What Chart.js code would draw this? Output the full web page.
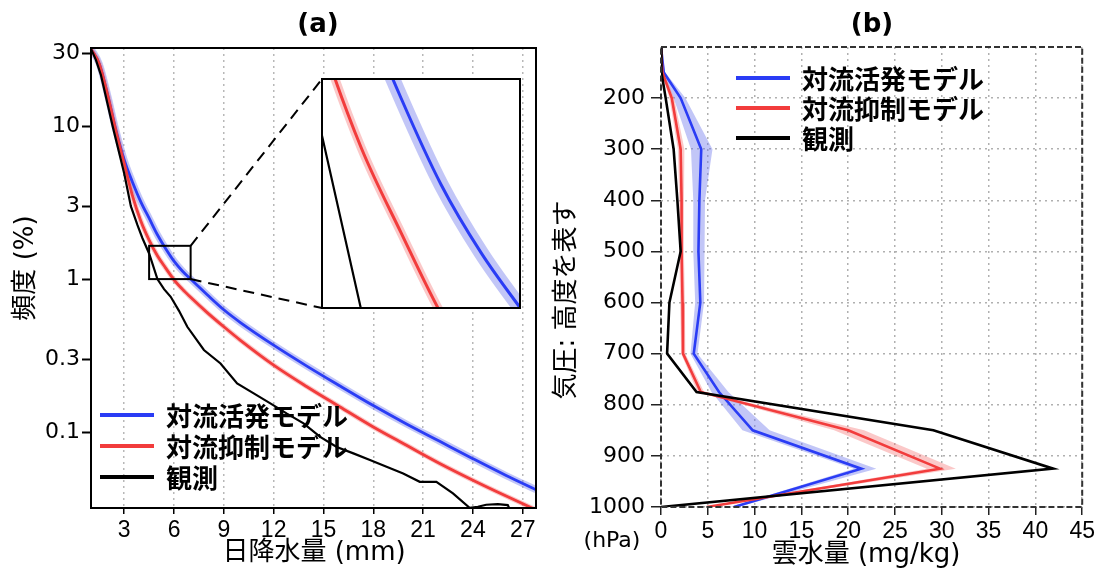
<!DOCTYPE html>
<html>
<head>
<meta charset="utf-8">
<script src="https://cdn.jsdelivr.net/npm/chart.js@4.4.1/dist/chart.umd.min.js"></script>
<style>
  html, body { margin: 0; padding: 0; background: #fff; }
  #wrap { position: relative; width: 1098px; height: 575px; overflow: hidden; background: #fff; }
  canvas { position: absolute; }
</style>
</head>
<body>
<div id="wrap">
  <canvas id="chartA" width="550" height="575" style="left:0;top:0"></canvas>
  <canvas id="inset" width="200" height="231" style="left:321px;top:78px"></canvas>
  <canvas id="chartB" width="548" height="575" style="left:550px;top:0"></canvas>
</div>
<script>
// ---- data ------------------------------------------------------------------
const seriesNames = ['対流活発モデル', '対流抑制モデル', '観測'];

// (a) frequency (%) of daily precipitation (mm)
const rainModelMm = [1, 1.5, 2, 2.5, 3, 3.5, 4, 4.5, 5, 5.5, 6, 6.5, 7, 8, 9, 10, 12, 14, 16, 18, 20, 22, 24, 26, 27.8];
const freqActive = [32, 25.5, 16, 9.4, 6.0, 4.3, 3.2, 2.5, 1.95, 1.58, 1.31, 1.13, 1.0, 0.79, 0.63, 0.52, 0.37, 0.27, 0.2, 0.149, 0.113, 0.087, 0.067, 0.052, 0.042];
const freqSuppressed = [32, 25.5, 16, 9.3, 5.7, 3.5, 2.4, 1.8, 1.42, 1.18, 0.99, 0.86, 0.76, 0.604, 0.488, 0.398, 0.274, 0.198, 0.146, 0.108, 0.082, 0.0624, 0.0485, 0.0382, 0.031];
const rainObsMm = [1, 1.3, 1.6, 2.3, 3.0, 3.4, 3.8, 4.1, 4.5, 5.0, 5.4, 5.8, 6.3, 6.8, 7.8, 8.8, 9.8, 10.8, 11.8, 12.8, 13.8, 14.8, 15.8, 16.8, 17.8, 18.8, 19.8, 20.8, 21.8, 22.8, 23.8, 24.3, 24.8, 25.5, 26.1, 26.3];
const freqObs = [32, 27, 21.5, 10, 4.9, 3.0, 2.25, 1.85, 1.47, 1.0, 0.86, 0.766, 0.62, 0.488, 0.344, 0.281, 0.208, 0.179, 0.154, 0.132, 0.114, 0.093, 0.080, 0.0726, 0.0656, 0.0593, 0.0537, 0.0473, 0.0473, 0.0398, 0.032, 0.0325, 0.0335, 0.0338, 0.0333, 0.030];
const freqTicks = [30, 10, 3, 1, 0.3, 0.1];
const rainTicks = [3, 6, 9, 12, 15, 18, 21, 24, 27];
const zoomRain = [4.5, 7.0];
const zoomFreq = [1, 1.65];

// (b) cloud water (mg/kg) by pressure level (hPa)
const pressureLevels = [100, 150, 200, 300, 400, 500, 600, 700, 775, 850, 925, 1000];
const cloudActive = [0, 0.3, 2.1, 4.3, 4.1, 4.0, 4.2, 3.5, 6.2, 9.8, 21.4, 7.8];
const cloudActiveLo = [0, 0.15, 1.35, 3.2, 3.45, 3.45, 3.65, 3.15, 5.4, 8.7, 20.6, 7.4];
const cloudActiveHi = [0, 0.45, 2.6, 5.5, 4.7, 4.6, 4.6, 3.9, 7.2, 11.6, 23.0, 8.2];
const cloudSuppressed = [0, 0.15, 1.15, 2.1, 2.2, 2.2, 2.3, 2.35, 4.25, 20.0, 29.8, 4.9];
const cloudSuppressedLo = [0, 0.05, 0.9, 1.8, 1.95, 1.95, 2.05, 2.15, 3.9, 18.5, 28.4, 4.65];
const cloudSuppressedHi = [0, 0.3, 1.4, 2.5, 2.45, 2.45, 2.55, 2.6, 4.6, 21.7, 31.5, 5.15];
const cloudObs = [0, 0.05, 0.5, 1.35, 1.75, 2.1, 0.9, 0.65, 3.8, 29.1, 41.9, 0];
const pressureTicks = [200, 300, 400, 500, 600, 700, 800, 900, 1000];
const cloudTicks = [0, 5, 10, 15, 20, 25, 30, 35, 40, 45];

// ---- helpers ---------------------------------------------------------------
const BLUE = '#2a3cf5';
const RED = '#f23c3c';
const seriesColors = [BLUE, RED, '#000'];
const BLUE_BAND = 'rgba(110,118,235,0.42)';
const RED_BAND = 'rgba(245,110,110,0.38)';
const CJK = '"DejaVu Sans", "Noto Sans CJK JP"';
const NARROW = '"Liberation Sans Narrow", "Liberation Sans"';

const pts = (xs, ys) => xs.map((x, i) => ({ x: x, y: ys[i] }));
const prof = vals => pressureLevels.map((p, i) => ({ x: vals[i], y: p }));
const fixTicks = list => scale => { scale.ticks = list.map(v => ({ value: v })); };

Chart.defaults.color = '#000';
Chart.defaults.elements.point.radius = 0;

function textPlugin(items) {
    return {
        id: 'texts',
        afterDraw(chart) {
            const ctx = chart.ctx;
            items.forEach(t => {
                ctx.save();
                ctx.font = t.font;
                ctx.fillStyle = '#000';
                ctx.textAlign = 'center';
                ctx.textBaseline = 'middle';
                ctx.translate(t.x, t.y);
                if (t.rotate) ctx.rotate(t.rotate);
                ctx.fillText(t.text, 0, 0);
                ctx.restore();
            });
        }
    };
}

function legendPlugin(x0, y0, gap) {
    return {
        id: 'inlineLegend',
        afterDraw(chart) {
            const ctx = chart.ctx;
            seriesNames.forEach((name, i) => {
                const y = y0 + i * gap;
                ctx.save();
                ctx.strokeStyle = seriesColors[i];
                ctx.lineWidth = 4;
                ctx.beginPath();
                ctx.moveTo(x0, y);
                ctx.lineTo(x0 + 54, y);
                ctx.stroke();
                ctx.font = 'bold 26px "Noto Sans CJK JP"';
                ctx.fillStyle = '#000';
                ctx.textBaseline = 'middle';
                ctx.fillText(name, x0 + 66, y + 1);
                ctx.restore();
            });
        }
    };
}

// ---- (a) main ---------------------------------------------------------------
const insetBox = { left: 322, top: 79, right: 520, bottom: 308 };

new Chart(document.getElementById('chartA'), {
    type: 'line',
    data: {
        datasets: [
            { label: seriesNames[2], data: pts(rainObsMm, freqObs), borderColor: '#000', borderWidth: 2.2, tension: 0, order: 0 },
            { label: seriesNames[1], data: pts(rainModelMm, freqSuppressed), borderColor: RED, borderWidth: 2.8, cubicInterpolationMode: 'monotone', order: 1 },
            { label: seriesNames[0], data: pts(rainModelMm, freqActive), borderColor: BLUE, borderWidth: 2.8, cubicInterpolationMode: 'monotone', order: 2 },
            { label: 'band1', data: pts(rainModelMm, freqSuppressed), borderColor: RED_BAND, borderWidth: 5, cubicInterpolationMode: 'monotone', order: 3 },
            { label: 'band0', data: pts(rainModelMm, freqActive), borderColor: BLUE_BAND, borderWidth: 7, cubicInterpolationMode: 'monotone', order: 4 }
        ]
    },
    options: {
        responsive: false,
        animation: false,
        events: [],
        layout: { padding: { left: 0, top: 48, right: 14, bottom: 0 } },
        plugins: { legend: { display: false }, tooltip: { enabled: false } },
        scales: {
            x: {
                type: 'linear', min: 1, max: 27.8,
                afterBuildTicks: fixTicks(rainTicks),
                afterFit: s => { s.height = 67; },
                grid: { color: '#b8b8b8', lineWidth: 1.5, tickLength: 6, tickColor: '#000', tickWidth: 1.5 },
                border: { display: false, dash: [2, 4] },
                ticks: { padding: 3, font: { family: NARROW, size: 23 } }
            },
            y: {
                type: 'logarithmic', min: 0.0319, max: 32.4,
                afterBuildTicks: fixTicks(freqTicks),
                afterFit: s => { s.width = 91; },
                grid: { drawOnChartArea: false, tickLength: 9, tickColor: '#000', tickWidth: 2 },
                border: { display: false },
                ticks: { padding: 2, font: { family: '"DejaVu Sans"', size: 22 }, callback: v => String(v) }
            }
        }
    },
    plugins: [
        {
            id: 'frameA',
            afterDatasetsDraw(chart) {
                const { ctx, chartArea: a, scales } = chart;
                ctx.save();
                ctx.strokeStyle = '#000';
                ctx.lineWidth = 2;
                ctx.strokeRect(a.left, a.top, a.right - a.left, a.bottom - a.top);
                // zoomed region and connectors to the inset
                const x0 = scales.x.getPixelForValue(zoomRain[0]);
                const x1 = scales.x.getPixelForValue(zoomRain[1]);
                const y0 = scales.y.getPixelForValue(zoomFreq[0]);
                const y1 = scales.y.getPixelForValue(zoomFreq[1]);
                ctx.strokeRect(x0, y1, x1 - x0, y0 - y1);
                ctx.setLineDash([11, 7]);
                ctx.beginPath();
                ctx.moveTo(x1, y1); ctx.lineTo(insetBox.left, insetBox.top);
                ctx.moveTo(x1, y0); ctx.lineTo(insetBox.left, insetBox.bottom);
                ctx.stroke();
                ctx.restore();
            }
        },
        legendPlugin(100, 415, 31),
        textPlugin([
            { text: '(a)', x: 318, y: 25, font: 'bold 26px "DejaVu Sans"' },
            { text: '日降水量 (mm)', x: 314, y: 553, font: '26px ' + CJK },
            { text: '頻度 (%)', x: 26, y: 268, font: '26px ' + CJK, rotate: -Math.PI / 2 }
        ])
    ]
});

// ---- (a) inset --------------------------------------------------------------
new Chart(document.getElementById('inset'), {
    type: 'line',
    data: {
        datasets: [
            { data: pts(rainObsMm, freqObs), borderColor: '#000', borderWidth: 2.2, tension: 0, order: 0 },
            { data: pts(rainModelMm, freqSuppressed), borderColor: RED, borderWidth: 3, cubicInterpolationMode: 'monotone', order: 1 },
            { data: pts(rainModelMm, freqActive), borderColor: BLUE, borderWidth: 3, cubicInterpolationMode: 'monotone', order: 2 },
            { data: pts(rainModelMm, freqSuppressed), borderColor: RED_BAND, borderWidth: 9, cubicInterpolationMode: 'monotone', order: 3 },
            { data: pts(rainModelMm, freqActive), borderColor: BLUE_BAND, borderWidth: 15, cubicInterpolationMode: 'monotone', order: 4 }
        ]
    },
    options: {
        responsive: false,
        animation: false,
        events: [],
        layout: { padding: 0 },
        plugins: { legend: { display: false }, tooltip: { enabled: false } },
        scales: {
            x: { type: 'linear', min: zoomRain[0], max: zoomRain[1], display: false },
            y: { type: 'logarithmic', min: zoomFreq[0], max: zoomFreq[1], display: false }
        }
    },
    plugins: [{
        id: 'insetFrame',
        beforeDraw(chart) {
            chart.ctx.save();
            chart.ctx.fillStyle = '#fff';
            chart.ctx.fillRect(0, 0, chart.width, chart.height);
            chart.ctx.restore();
        },
        afterDraw(chart) {
            const ctx = chart.ctx;
            ctx.save();
            ctx.strokeStyle = '#000';
            ctx.lineWidth = 2;
            ctx.strokeRect(1, 1, chart.width - 2, chart.height - 2);
            ctx.restore();
        }
    }]
});

// ---- (b) profile ------------------------------------------------------------
new Chart(document.getElementById('chartB'), {
    type: 'line',
    data: {
        datasets: [
            { label: seriesNames[2], data: prof(cloudObs), borderColor: '#000', borderWidth: 2.6, order: 0 },
            { label: seriesNames[1], data: prof(cloudSuppressed), borderColor: RED, borderWidth: 2.6, order: 1 },
            { label: seriesNames[0], data: prof(cloudActive), borderColor: BLUE, borderWidth: 2.6, order: 2 },
            { label: 'hi1', data: prof(cloudSuppressedHi), borderWidth: 0, borderColor: 'rgba(0,0,0,0)', backgroundColor: RED_BAND, fill: '+1', order: 3 },
            { label: 'lo1', data: prof(cloudSuppressedLo), borderWidth: 0, borderColor: 'rgba(0,0,0,0)', order: 3 },
            { label: 'hi0', data: prof(cloudActiveHi), borderWidth: 0, borderColor: 'rgba(0,0,0,0)', backgroundColor: BLUE_BAND, fill: '+1', order: 4 },
            { label: 'lo0', data: prof(cloudActiveLo), borderWidth: 0, borderColor: 'rgba(0,0,0,0)', order: 4 }
        ]
    },
    options: {
        indexAxis: 'y',
        responsive: false,
        animation: false,
        events: [],
        layout: { padding: { left: 0, top: 47, right: 10, bottom: 0 } },
        plugins: { legend: { display: false }, tooltip: { enabled: false } },
        scales: {
            x: {
                type: 'linear', min: 0, max: 45,
                afterBuildTicks: fixTicks(cloudTicks),
                afterFit: s => { s.height = 68; },
                grid: { color: '#b0b0b0', lineWidth: 1.5, tickLength: 8, tickColor: '#222', tickWidth: 1.5 },
                border: { display: false, dash: [2, 4] },
                ticks: { padding: 3, font: { family: NARROW, size: 23 } }
            },
            y: {
                type: 'linear', min: 100, max: 1000, reverse: true,
                afterBuildTicks: fixTicks(pressureTicks),
                afterFit: s => { s.width = 111; },
                grid: { color: '#b0b0b0', lineWidth: 1.5, tickLength: 10, tickColor: '#222', tickWidth: 1.5 },
                border: { display: false, dash: [2, 4] },
                ticks: { padding: 6, font: { family: '"DejaVu Sans"', size: 22 }, callback: v => String(v) }
            }
        }
    },
    plugins: [
        {
            id: 'frameB',
            afterDatasetsDraw(chart) {
                const { ctx, chartArea: a } = chart;
                ctx.save();
                ctx.strokeStyle = '#333';
                ctx.lineWidth = 2;
                ctx.setLineDash([6, 3]);
                ctx.strokeRect(a.left, a.top, a.right - a.left, a.bottom - a.top);
                ctx.restore();
            }
        },
        legendPlugin(186, 78, 30),
        textPlugin([
            { text: '(b)', x: 322, y: 25, font: 'bold 26px "DejaVu Sans"' },
            { text: '雲水量 (mg/kg)', x: 316, y: 555, font: '26px ' + CJK },
            { text: '(hPa)', x: 62, y: 541, font: '22px "DejaVu Sans"' },
            { text: '気圧: 高度を表す', x: 17, y: 300, font: '26px ' + CJK, rotate: -Math.PI / 2 }
        ])
    ]
});
</script>
</body>
</html>
